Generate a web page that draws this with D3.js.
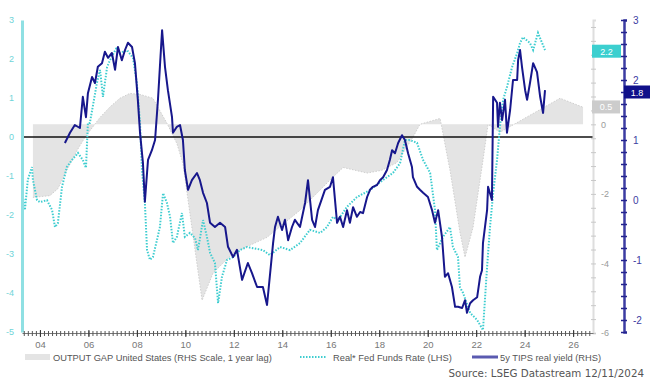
<!DOCTYPE html>
<html>
<head>
<meta charset="utf-8">
<script src="https://cdn.jsdelivr.net/npm/d3@7"></script>
<style>
  body { margin: 0; background: #fff; }
  svg { display: block; }
</style>
</head>
<body>
<div id="chart"></div>
<script>
// output gap, 1 year lag (RHS grey scale)
const gapDates = [2003.71, 2004.41, 2004.74, 2005.11, 2005.53, 2005.86, 2006.48, 2006.89, 2007.30, 2007.71,
  2008.13, 2008.66, 2008.87, 2009.24, 2009.65, 2009.90, 2010.69, 2011.14, 2011.97, 2013.37, 2014.73, 2015.97,
  2016.51, 2017.50, 2018.11, 2018.73, 2019.39, 2019.68, 2020.51, 2020.92, 2021.33, 2021.54, 2021.87, 2022.28,
  2022.49, 2022.98, 2025.46, 2026.41];
const gapValues = [-2.1, -2.05, -1.85, -1.32, -0.75, -0.37, 0.2, 0.5, 0.75, 0.89,
  0.86, 0.75, 0.49, 0.03, -0.55, -1.12, -5.06, -4.28, -3.7, -3.25, -2.47, -1.6,
  -1.24, -1.4, -1.32, -1.1, -0.37, 0, 0.17, -1.32, -3.1, -3.82, -2.96, -1.03,
  0, -0.23, 0.75, 0.49];

// real fed funds rate (LHS)
const ffrDates = [2003.26, 2003.38, 2003.50, 2003.67, 2003.71, 2003.88, 2004.00, 2004.29, 2004.50, 2004.62,
  2004.74, 2004.91, 2005.11, 2005.32, 2005.57, 2005.77, 2005.90, 2005.98, 2006.06, 2006.35, 2006.48, 2006.60,
  2006.77, 2006.89, 2007.18, 2007.30, 2007.59, 2007.84, 2008.00, 2008.13, 2008.21, 2008.33, 2008.42, 2008.54,
  2008.66, 2008.83, 2008.95, 2009.08, 2009.24, 2009.37, 2009.49, 2009.65, 2009.86, 2009.98, 2010.19, 2010.40,
  2010.52, 2010.73, 2010.89, 2011.02, 2011.22, 2011.35, 2011.51, 2011.72, 2011.97, 2012.25, 2012.54, 2012.79,
  2013.20, 2013.49, 2013.91, 2014.32, 2014.73, 2015.14, 2015.56, 2015.84, 2016.09, 2016.30, 2016.67, 2017.08,
  2017.62, 2018.16, 2018.57, 2018.86, 2019.06, 2019.27, 2019.56, 2019.81, 2020.10, 2020.30, 2020.38, 2020.63,
  2020.92, 2021.04, 2021.25, 2021.33, 2021.46, 2021.75, 2022.04, 2022.28, 2022.45, 2022.57, 2022.70, 2022.86,
  2022.98, 2023.11, 2023.27, 2023.48, 2023.69, 2023.81, 2023.93, 2024.22, 2024.35, 2024.55, 2024.72, 2024.84];
const ffrValues = [-1.36, -1.87, -1.10, -0.77, -1.10, -1.62, -1.67, -1.62, -1.87, -2.31,
  -2.21, -1.28, -0.77, -0.59, -0.41, -0.59, -0.79, 0.36, 0.36, 1.38, 1.72, 1.03,
  1.79, 1.97, 2.31, 2.15, 2.23, 2.03, 1.38, 0.36, -0.85, -1.69, -2.90, -3.15,
  -3.08, -2.64, -2.31, -1.44, -1.69, -2.05, -2.72, -2.56, -1.95, -2.56, -2.46, -2.59,
  -2.90, -2.13, -2.56, -2.97, -3.23, -4.26, -3.59, -3.15, -3.08, -2.90, -2.82, -2.85,
  -2.90, -3.03, -2.82, -2.90, -2.72, -2.38, -2.46, -2.31, -2.05, -2.13, -1.79, -1.54,
  -1.36, -1.10, -0.92, -0.67, -0.08, -0.08, -0.15, -0.59, -0.92, -1.87, -2.90, -2.56,
  -2.31, -2.82, -3.08, -3.85, -4.00, -4.51, -4.69, -4.95, -3.33, -2.31, -1.44, -0.59,
  0.26, 0.95, 1.28, 1.79, 2.15, 2.41, 2.56, 2.41, 2.23, 2.67, 2.41, 2.23];

// 5y TIPS real yield (RHS navy scale)
const tipsDates = [2005.03, 2005.24, 2005.44, 2005.65, 2005.77, 2005.90, 2005.98,
  2006.15, 2006.27, 2006.39, 2006.56, 2006.68, 2006.81, 2006.97,
  2007.10, 2007.22, 2007.38, 2007.51, 2007.63, 2007.80, 2007.92,
  2008.04, 2008.13, 2008.25, 2008.33, 2008.46, 2008.62, 2008.75, 2008.87, 2008.95,
  2009.04, 2009.16, 2009.28, 2009.45, 2009.49, 2009.65, 2009.78, 2009.90, 2009.98,
  2010.11, 2010.27, 2010.48, 2010.60, 2010.73, 2010.89,
  2011.02, 2011.22, 2011.43, 2011.64, 2011.76, 2011.97,
  2012.13, 2012.34, 2012.58, 2012.75, 2012.96,
  2013.20, 2013.37, 2013.62, 2013.70, 2013.82, 2013.99,
  2014.11, 2014.24, 2014.40, 2014.52, 2014.73, 2014.94,
  2015.06, 2015.23, 2015.35, 2015.47, 2015.76, 2015.97,
  2016.09, 2016.26, 2016.38, 2016.51, 2016.67, 2016.79, 2016.92,
  2017.08, 2017.21, 2017.33, 2017.50, 2017.62, 2017.74, 2017.91,
  2018.03, 2018.16, 2018.32, 2018.44, 2018.53, 2018.65, 2018.78, 2018.94,
  2019.06, 2019.19, 2019.35, 2019.39, 2019.56, 2019.68, 2019.81,
  2020.01, 2020.18, 2020.30, 2020.43, 2020.59, 2020.71, 2020.84,
  2021.00, 2021.13, 2021.25, 2021.42, 2021.54, 2021.62, 2021.75, 2021.87,
  2022.04, 2022.16, 2022.24, 2022.28, 2022.45, 2022.49, 2022.65, 2022.70, 2022.86, 2022.90, 2022.98,
  2023.07, 2023.19, 2023.27, 2023.40, 2023.52, 2023.69, 2023.73, 2023.81, 2023.89,
  2024.02, 2024.10, 2024.22, 2024.35, 2024.51, 2024.64, 2024.76, 2024.84];
const tipsValues = [0.95, 1.12, 1.25, 1.20, 1.72, 1.38, 1.78,
  2.05, 1.95, 2.22, 2.28, 2.47, 2.37, 2.45,
  2.17, 2.55, 2.33, 2.50, 2.62, 2.55, 2.28,
  1.67, 1.12, 0.62, -0.03, 0.67, 0.83, 1.00, 1.67, 2.22,
  2.83, 2.22, 1.83, 1.38, 1.12, 1.22, 1.25, 1.00, 0.50,
  0.17, 0.33, 0.45, 0.33, 0.12, -0.05,
  -0.38, -0.45, -0.38, -0.45, -0.78, -0.95,
  -0.83, -1.33, -1.05, -1.22, -1.45,
  -1.45, -1.75, -0.72, -0.45, -0.28, -0.50,
  -0.33, -0.67, -0.45, -0.33, -0.45, -0.05,
  0.33, -0.33, -0.45, -0.17, 0.17, 0.22,
  0.38, -0.38, -0.28, -0.45, -0.17, -0.38, -0.12,
  -0.28, -0.20, -0.22, 0.05, 0.17, 0.22, 0.25,
  0.33, 0.38, 0.50, 0.67, 0.83, 0.78, 0.95, 1.08,
  1.00, 0.78, 0.55, 0.38, 0.22, 0.17, 0.12,
  0.05, -0.17, -0.38, -0.17, -0.62, -1.28, -1.22,
  -1.45, -1.78, -1.78, -1.80, -1.67, -1.88, -1.72, -1.67,
  -1.62, -1.28, -1.17, -0.72, -0.17, 0.22, 0.00, 1.72, 1.62, 1.22, 1.62,
  1.33, 1.67, 1.12, 1.50, 2.00, 2.00, 2.33, 2.50, 2.22,
  1.83, 1.67, 1.95, 2.28, 2.13, 1.72, 1.45, 1.83];

const labelYears = [2004, 2006, 2008, 2010, 2012, 2014, 2016, 2018, 2020, 2022, 2024, 2026];
const yearLabels = ['04', '06', '08', '10', '12', '14', '16', '18', '20', '22', '24', '26'];
const lastLabels = ['2.2', '0.5', '1.8'];   // ffr, gap, tips
const legendLabels = ['OUTPUT GAP United States (RHS Scale, 1 year lag)', 'Real* Fed Funds Rate (LHS)', '5y TIPS real yield (RHS)'];
const sourceText = 'Source: LSEG Datastream 12/11/2024';

const width = 655
    , height = 384
    , cyan = '#3fcdd0'
    , navy = '#17178c'
    , grey = '#e4e4e4'
    ;

const svg = d3.select('#chart').append('svg')
  .attr('width', width)
  .attr('height', height)
  .style('font-family', '"Liberation Sans", Arial, sans-serif');

const x = d3.scaleLinear().domain([2003.26, 2026.82]).range([22, 593]);
const yL = d3.scaleLinear().domain([-5, 3]).range([332, 20]);
const yG = d3.scaleLinear().domain([-6, 3]).range([333, 20]);
const yR = d3.scaleLinear().domain([-2.2, 3]).range([332, 20]);

const gap = gapDates.map((d, i) => [d, gapValues[i]]);
const ffr = ffrDates.map((d, i) => [d, ffrValues[i]]);
const tips = tipsDates.map((d, i) => [d, tipsValues[i]]);

// output gap area
svg.append('path')
  .datum(gap)
  .attr('d', d3.area().x(d => x(d[0])).y0(yG(0)).y1(d => yG(d[1])))
  .attr('fill', grey);

svg.append('path')
  .datum(gap)
  .attr('d', d3.line().x(d => x(d[0])).y(d => yG(d[1])))
  .attr('fill', 'none')
  .attr('stroke', '#cfcfcf')
  .attr('stroke-width', 1)
  .attr('stroke-dasharray', '1.5,1.5');

// zero line on the LHS scale
svg.append('line')
  .attr('x1', x.range()[0]).attr('x2', x.range()[1])
  .attr('y1', yL(0)).attr('y2', yL(0))
  .attr('stroke', '#111')
  .attr('stroke-width', 1.5);

svg.append('path')
  .datum(ffr)
  .attr('d', d3.line().x(d => x(d[0])).y(d => yL(d[1])))
  .attr('fill', 'none')
  .attr('stroke', cyan)
  .attr('stroke-width', 2)
  .attr('stroke-dasharray', '1.5,1.5');

svg.append('path')
  .datum(tips)
  .attr('d', d3.line().x(d => x(d[0])).y(d => yR(d[1])))
  .attr('fill', 'none')
  .attr('stroke', navy)
  .attr('stroke-width', 2)
  .attr('stroke-linejoin', 'round');

// left axis
const axL = svg.append('g')
  .attr('transform', `translate(${x.range()[0]},0)`)
  .call(d3.axisLeft(yL).tickValues(d3.range(-5, 4)).tickSize(0).tickPadding(8).tickFormat(d => String(d)));
axL.select('.domain').attr('stroke', '#8fe0e3').attr('stroke-width', 3);
axL.selectAll('text').attr('fill', '#6fd4d8').style('font-size', '9px');

// grey axis for the output gap
const axG = svg.append('g')
  .attr('transform', `translate(${x.range()[1]},0)`)
  .call(d3.axisRight(yG)
    .tickValues(d3.range(-15, 8).map(i => i * 0.4))
    .tickSize(3).tickPadding(5)
    .tickFormat(v => {
      const r = Math.round(v);
      return Math.abs(v - r) < 1e-6 && r % 2 === 0 && r <= 0 ? String(r === 0 ? 0 : r) : '';
    }));
axG.select('.domain').attr('stroke', '#dedede').attr('stroke-width', 2);
axG.selectAll('.tick line').attr('x1', -2).attr('stroke', '#c8c8c8');
axG.selectAll('text').attr('fill', '#9a9a9a').style('font-size', '9px');

// navy axis for TIPS
const axR = svg.append('g')
  .attr('transform', 'translate(624,0)')
  .call(d3.axisRight(yR)
    .tickValues(d3.range(-11, 16).map(i => i * 0.2))
    .tickSize(3).tickPadding(6)
    .tickFormat(v => {
      const r = Math.round(v);
      return Math.abs(v - r) < 1e-6 ? String(r === 0 ? 0 : r) : '';
    }));
axR.select('.domain').attr('stroke', '#3c3ca2').attr('stroke-width', 2.5);
axR.selectAll('.tick line').attr('x1', -3).attr('stroke', '#23238f').attr('stroke-width', 1.5);
axR.selectAll('text').attr('fill', '#3c3ca2').style('font-size', '10px');

// bottom axis
const minorTicks = d3.range(0, 141).map(i => 2003 + 4 / 12 + i / 6);
const axB = svg.append('g')
  .attr('transform', 'translate(0,333)')
  .call(d3.axisBottom(x).tickValues(minorTicks).tickSize(3).tickSizeOuter(0).tickFormat(''));
axB.select('.domain').attr('stroke', '#777');
axB.selectAll('.tick line').attr('y1', -2).attr('stroke', '#555');

const axY = svg.append('g')
  .attr('transform', 'translate(0,333)')
  .call(d3.axisBottom(x).tickValues(labelYears).tickSize(4).tickSizeOuter(0).tickPadding(4)
    .tickFormat((d, i) => yearLabels[i]));
axY.select('.domain').remove();
axY.selectAll('.tick line').attr('y1', -3).attr('stroke', '#333');
axY.selectAll('text').attr('fill', '#777').style('font-size', '9.5px');

// last value boxes
const boxes = [
  { text: lastLabels[0], x0: 592, w: 29, y: yL(+lastLabels[0]), fill: '#3ccfcf' },
  { text: lastLabels[1], x0: 592, w: 28, y: yG(+lastLabels[1]), fill: '#cccccc' },
  { text: lastLabels[2], x0: 624, w: 26, y: yR(+lastLabels[2]), fill: '#10108a' }
];
const box = svg.append('g').selectAll('g').data(boxes).join('g');
box.append('rect')
  .attr('x', d => d.x0).attr('y', d => d.y - 6.5)
  .attr('width', d => d.w).attr('height', 13)
  .attr('fill', d => d.fill);
box.append('text')
  .attr('x', d => d.x0 + d.w / 2).attr('y', d => d.y + 3.5)
  .attr('text-anchor', 'middle')
  .attr('fill', '#fff')
  .style('font-size', '9px')
  .text(d => d.text);

// legend
const legend = svg.append('g').style('font-size', '9.3px').attr('fill', '#555');
legend.append('rect').attr('x', 25).attr('y', 354).attr('width', 25).attr('height', 6).attr('fill', grey);
legend.append('text').attr('x', 53).attr('y', 360.5).text(legendLabels[0]);
legend.append('line').attr('x1', 300).attr('x2', 326).attr('y1', 357).attr('y2', 357)
  .attr('stroke', cyan).attr('stroke-width', 2).attr('stroke-dasharray', '1.5,1.5');
legend.append('text').attr('x', 333).attr('y', 360.5).text(legendLabels[1]);
legend.append('line').attr('x1', 472).attr('x2', 498).attr('y1', 357).attr('y2', 357)
  .attr('stroke', '#5a5ab0').attr('stroke-width', 3);
legend.append('text').attr('x', 500).attr('y', 360.5).text(legendLabels[2]);

svg.append('text')
  .attr('x', 644).attr('y', 377)
  .attr('text-anchor', 'end')
  .attr('fill', '#555')
  .style('font-family', '"DejaVu Sans", sans-serif')
  .style('font-size', '10.3px')
  .text(sourceText);
</script>
</body>
</html>
